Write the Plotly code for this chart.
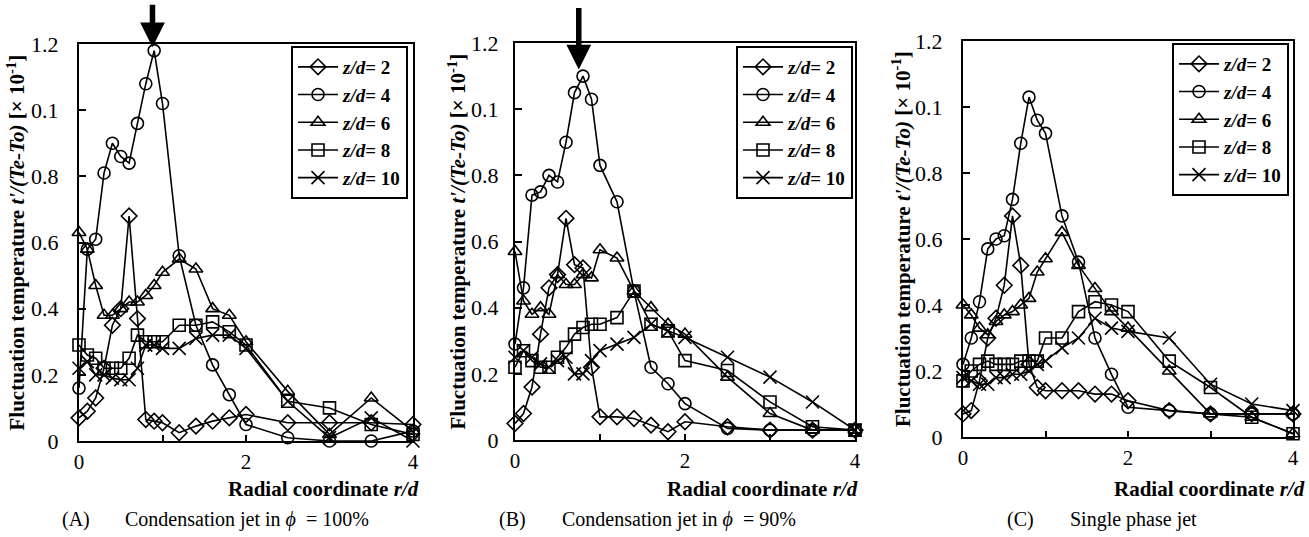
import plotly.graph_objects as go

# ---------------- data ----------------
R = [0, 0.1, 0.2, 0.3, 0.4, 0.5, 0.6, 0.7, 0.8, 0.9, 1.0, 1.2, 1.4, 1.6, 1.8, 2.0, 2.5, 3.0, 3.5, 4.0]
series_names = ["2", "4", "6", "8", "10"]

# (A) Condensation jet, phi = 100%
A_z2 = [0.07, 0.09, 0.13, 0.22, 0.35, 0.40, 0.68, 0.37, 0.065, 0.06, 0.055, 0.025, 0.045, 0.06, 0.07, 0.08, 0.055, 0.055, 0.055, 0.05]
A_z4 = [0.16, 0.58, 0.61, 0.81, 0.90, 0.86, 0.84, 0.96, 1.08, 1.18, 1.02, 0.56, 0.35, 0.23, 0.14, 0.05, 0.01, 0.0, 0.0, 0.03]
A_z6 = [0.63, 0.58, 0.47, 0.38, 0.38, 0.40, 0.42, 0.42, 0.44, 0.47, 0.51, 0.55, 0.52, 0.40, 0.38, 0.30, 0.15, 0.02, 0.13, 0.03]
A_z8 = [0.29, 0.26, 0.25, 0.22, 0.22, 0.22, 0.25, 0.32, 0.30, 0.30, 0.30, 0.35, 0.35, 0.36, 0.33, 0.29, 0.12, 0.10, 0.05, 0.02]
A_z10 = [0.22, 0.24, 0.20, 0.20, 0.19, 0.185, 0.185, 0.22, 0.29, 0.29, 0.28, 0.28, 0.31, 0.32, 0.32, 0.28, 0.12, 0.01, 0.07, 0.0]

# (B) Condensation jet, phi = 90%
B_z2 = [0.05, 0.08, 0.16, 0.32, 0.46, 0.50, 0.67, 0.53, 0.52, 0.22, 0.07, 0.07, 0.065, 0.045, 0.025, 0.055, 0.04, 0.03, 0.03, 0.03]
B_z4 = [0.29, 0.46, 0.74, 0.75, 0.80, 0.78, 0.90, 1.05, 1.10, 1.03, 0.83, 0.72, 0.45, 0.22, 0.17, 0.11, 0.035, 0.03, 0.03, 0.03]
B_z6 = [0.57, 0.42, 0.38, 0.40, 0.38, 0.50, 0.47, 0.47, 0.50, 0.49, 0.575, 0.55, 0.45, 0.40, 0.35, 0.32, 0.19, 0.08, 0.03, 0.03]
B_z8 = [0.22, 0.27, 0.24, 0.22, 0.22, 0.25, 0.28, 0.32, 0.34, 0.35, 0.35, 0.37, 0.45, 0.35, 0.33, 0.24, 0.21, 0.115, 0.04, 0.03]
B_z10 = [0.25, 0.27, 0.25, 0.23, 0.22, 0.24, 0.25, 0.20, 0.20, 0.24, 0.27, 0.29, 0.31, 0.35, 0.33, 0.31, 0.25, 0.19, 0.115, 0.03]

# (C) Single phase jet
C_z2 = [0.07, 0.08, 0.17, 0.30, 0.36, 0.46, 0.67, 0.52, 0.22, 0.15, 0.14, 0.14, 0.14, 0.13, 0.13, 0.11, 0.08, 0.07, 0.07, 0.07]
C_z4 = [0.22, 0.30, 0.41, 0.57, 0.60, 0.61, 0.72, 0.89, 1.03, 0.96, 0.92, 0.67, 0.53, 0.30, 0.19, 0.09, 0.08, 0.07, 0.07, 0.07]
C_z6 = [0.40, 0.37, 0.33, 0.31, 0.35, 0.37, 0.38, 0.40, 0.42, 0.50, 0.54, 0.62, 0.52, 0.45, 0.38, 0.33, 0.20, 0.07, 0.06, 0.01]
C_z8 = [0.17, 0.20, 0.22, 0.23, 0.22, 0.22, 0.22, 0.23, 0.23, 0.23, 0.30, 0.30, 0.38, 0.41, 0.40, 0.38, 0.23, 0.15, 0.06, 0.01]
C_z10 = [0.18, 0.17, 0.16, 0.16, 0.18, 0.18, 0.19, 0.19, 0.20, 0.22, 0.23, 0.27, 0.30, 0.36, 0.33, 0.32, 0.30, 0.16, 0.10, 0.08]

y_tickvals = [0, 0.2, 0.4, 0.6, 0.8, 1.0, 1.2]
y_ticktext = ["0", "0.2", "0.4", "0.6", "0.8", "0.1", "1.2"]
x_tickvals = [0, 2, 4]
x_ticktext = ["0", "2", "4"]

captions = [("(A)", "Condensation jet in <i>ϕ</i>  = 100%"),
            ("(B)", "Condensation jet in <i>ϕ</i>  = 90%"),
            ("(C)", "Single phase jet")]

panels = [
    [A_z2, A_z4, A_z6, A_z8, A_z10],
    [B_z2, B_z4, B_z6, B_z8, B_z10],
    [C_z2, C_z4, C_z6, C_z8, C_z10],
]

# ---------------- layout geometry ----------------
W, H = 1309, 537
px_x = [(79, 413), (515, 855), (963, 1293)]
px_y = [(44, 441), (43, 440), (41, 437)]
legend_pos = [(408, 46), (853, 46), (1289, 43)]
ytitle_x = [16, 457, 901]
xtitle_right = [421, 860, 1307]
caption_x = [(60, 123), (497, 560), (1005, 1068)]
ticklabel_gap = [14, 10, 14]

symbols = ["diamond-open", "circle-open", "triangle-up-open", "square-open", "x-thin-open"]
msizes = [12, 12, 12, 12, 13]

FONT = "Liberation Serif"

fig = go.Figure()

for p, data in enumerate(panels):
    sfx = "" if p == 0 else str(p + 1)
    leg = "legend" + sfx
    for i, ys in enumerate(data):
        fig.add_trace(go.Scatter(
            x=R, y=ys, mode="lines+markers",
            name="<b><i>z/d</i>= " + series_names[i] + "</b>",
            xaxis="x" + sfx, yaxis="y" + sfx,
            legend=leg,
            cliponaxis=False,
            line=dict(color="black", width=1.6),
            marker=dict(symbol=symbols[i], size=msizes[i], color="black",
                        line=dict(color="black", width=1.6)),
        ))

layout = dict(
    width=W, height=H, autosize=False,
    margin=dict(l=0, r=0, t=0, b=0, pad=0, autoexpand=False),
    paper_bgcolor="white", plot_bgcolor="white",
    font=dict(family=FONT, color="black"),
    showlegend=True,
)

annotations = []
for p in range(3):
    sfx = "" if p == 0 else str(p + 1)
    x0, x1 = px_x[p]
    y0, y1 = px_y[p]
    layout["xaxis" + sfx] = dict(
        domain=[x0 / W, x1 / W], anchor="y" + sfx, range=[0, 4],
        tickvals=x_tickvals, ticktext=x_ticktext, ticks="inside", ticklen=6,
        tickwidth=2, tickcolor="black", automargin=False,
        minor=dict(dtick=1, tick0=0, ticks="inside", ticklen=6, tickwidth=2,
                   tickcolor="black", showgrid=False),
        showline=True, linewidth=2.2, linecolor="black", mirror=True,
        showgrid=False, zeroline=False,
        tickfont=dict(family=FONT, size=21, color="black"),
        ticklabelstandoff=1,
    )
    layout["yaxis" + sfx] = dict(
        domain=[1 - y1 / H, 1 - y0 / H], anchor="x" + sfx, range=[0, 1.2],
        tickvals=y_tickvals, ticktext=y_ticktext, ticks="inside", ticklen=7,
        tickwidth=2, tickcolor="black", automargin=False,
        showline=True, linewidth=2.2, linecolor="black", mirror=True,
        showgrid=False, zeroline=False,
        tickfont=dict(family=FONT, size=22, color="black"),
        ticklabelstandoff=ticklabel_gap[p],
    )
    lx, ly = legend_pos[p]
    layout["legend" + sfx] = dict(
        x=lx / W, y=1 - ly / H, xanchor="right", yanchor="top",
        xref="paper", yref="paper",
        bgcolor="white", bordercolor="black", borderwidth=2,
        font=dict(family=FONT, size=19, color="black"),
        tracegroupgap=0, itemwidth=40,
    )
    # y axis title
    annotations.append(dict(
        xref="paper", yref="paper", x=ytitle_x[p] / W, y=1 - (y0 + y1) / 2 / H,
        text="<b>Fluctuation temperature <i>t'/(Te-To)</i> [× 10<sup>-1</sup>]</b>",
        textangle=-90, showarrow=False, xanchor="center", yanchor="middle",
        font=dict(family=FONT, size=21, color="black"),
    ))
    # x axis title
    annotations.append(dict(
        xref="paper", yref="paper", x=xtitle_right[p] / W, y=1 - 489 / H,
        text="<b>Radial coordinate <i>r/d</i></b>", showarrow=False,
        xanchor="right", yanchor="middle",
        font=dict(family=FONT, size=21, color="black"),
    ))
    # captions
    cl, ct = captions[p]
    annotations.append(dict(
        xref="paper", yref="paper", x=caption_x[p][0] / W, y=1 - 519 / H,
        text=cl, showarrow=False, xanchor="left", yanchor="middle",
        font=dict(family=FONT, size=20, color="black"),
    ))
    annotations.append(dict(
        xref="paper", yref="paper", x=caption_x[p][1] / W, y=1 - 519 / H,
        text=ct, showarrow=False, xanchor="left", yanchor="middle",
        font=dict(family=FONT, size=20, color="black"),
    ))

# peak arrows
annotations.append(dict(x=0.88, y=1.19, xref="x", yref="y", ax=0, ay=-44,
                        axref="pixel", ayref="pixel", showarrow=True, text="",
                        arrowhead=2, arrowsize=0.9, arrowwidth=5.5, arrowcolor="black"))
annotations.append(dict(x=0.75, y=1.12, xref="x2", yref="y2", ax=0, ay=-63,
                        axref="pixel", ayref="pixel", showarrow=True, text="",
                        arrowhead=2, arrowsize=0.9, arrowwidth=5.5, arrowcolor="black"))

layout["annotations"] = annotations
fig.update_layout(**layout)

fig.write_html(
    "out.html",
    config={"displayModeBar": False},
    post_script="document.body.style.margin='0';document.body.style.overflow='hidden';",
)
